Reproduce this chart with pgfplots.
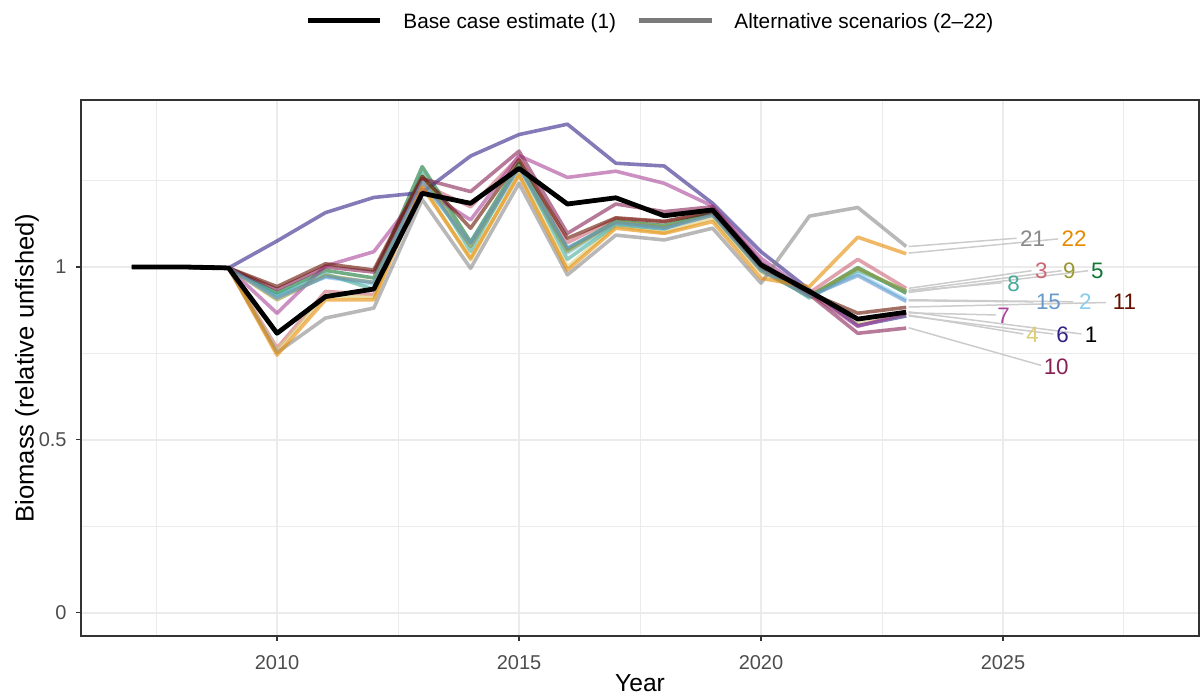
\documentclass[border=0pt]{standalone}
\usepackage{fontspec}
\setmainfont{Liberation Sans}
\usepackage{pgfplots}
\usepackage{pgfplotstable}
\pgfplotsset{compat=1.18}

\definecolor{c1}{HTML}{000000}
\definecolor{c2}{HTML}{88CCEE}
\definecolor{c3}{HTML}{CC6677}
\definecolor{c4}{HTML}{DDCC77}
\definecolor{c5}{HTML}{117733}
\definecolor{c6}{HTML}{332288}
\definecolor{c7}{HTML}{AA4499}
\definecolor{c8}{HTML}{44AA99}
\definecolor{c9}{HTML}{999933}
\definecolor{c10}{HTML}{882255}
\definecolor{c11}{HTML}{661100}
\definecolor{c15}{HTML}{6699CC}
\definecolor{c21}{HTML}{888888}
\definecolor{c22}{HTML}{E68A00}
\definecolor{gridcol}{HTML}{EBEBEB}
\definecolor{framecol}{HTML}{333333}
\definecolor{tickcol}{HTML}{4D4D4D}
\definecolor{leadcol}{HTML}{CCCCCC}

% biomass relative to unfished, by scenario
\pgfplotstableread{
year  s1    s2    s3    s4    s5    s6    s7    s8    s9    s10   s11   s15   s21   s22
2007  1.000 1.000 1.000 1.000 1.000 1.000 1.000 1.000 1.000 1.000 1.000 1.000 1.000 1.000
2008  1.000 1.000 1.000 1.000 1.000 1.000 1.000 1.000 1.000 1.000 1.000 1.000 1.000 1.000
2009  0.997 0.997 0.997 0.997 0.997 0.997 0.997 0.997 0.997 0.997 0.997 0.997 0.997 0.997
2010  0.808 0.915 0.765 0.758 0.925 1.075 0.866 0.918 0.905 0.935 0.943 0.910 0.752 0.745
2011  0.914 0.970 0.929 0.918 0.990 1.157 1.003 0.980 0.975 1.000 1.009 0.972 0.852 0.905
2012  0.936 0.950 0.920 0.912 0.968 1.201 1.044 0.935 0.955 0.985 0.991 0.955 0.881 0.905
2013  1.213 1.250 1.240 1.240 1.290 1.215 1.225 1.272 1.262 1.255 1.262 1.245 1.195 1.232
2014  1.184 1.060 1.174 1.020 1.072 1.321 1.136 1.045 1.060 1.218 1.112 1.068 0.996 1.025
2015  1.285 1.282 1.318 1.270 1.300 1.383 1.322 1.298 1.292 1.335 1.310 1.288 1.242 1.266
2016  1.182 1.040 1.070 1.000 1.052 1.413 1.259 1.022 1.045 1.097 1.083 1.055 0.977 0.991
2017  1.200 1.125 1.140 1.118 1.132 1.300 1.277 1.122 1.130 1.182 1.142 1.128 1.092 1.112
2018  1.148 1.110 1.130 1.100 1.120 1.292 1.242 1.110 1.115 1.160 1.132 1.112 1.078 1.097
2019  1.165 1.150 1.160 1.140 1.155 1.184 1.176 1.160 1.150 1.174 1.158 1.150 1.112 1.131
2020  1.006 0.990 1.000 0.985 0.995 1.044 1.025 1.000 0.990 1.012 1.000 0.990 0.953 0.967
2021  0.929 0.915 0.925 0.920 0.915 0.934 0.925 0.910 0.915 0.920 0.925 0.915 1.147 0.943
2022  0.849 0.980 1.022 0.835 0.998 0.830 0.828 0.990 0.995 0.808 0.866 0.975 1.172 1.086
2023  0.869 0.905 0.938 0.861 0.924 0.858 0.866 0.930 0.930 0.823 0.883 0.900 1.059 1.038
}\biomass

\begin{document}
\begin{tikzpicture}[
  scen/.style={line width=1.8pt, opacity=0.6, line join=round},
  lead/.style={leadcol, line width=0.75pt},
  lab/.style={font=\fontsize{11.2}{13}\selectfont, inner sep=0pt}]
\useasboundingbox (-40.5pt,-30.5pt) rectangle (561pt,318pt);
\begin{axis}[
    scale only axis,
    width=559pt, height=268pt,
    xmin=2005.95, xmax=2029.05,
    ymin=-0.068, ymax=1.483,
    xtick={2010,2015,2020,2025},
    minor xtick={2007.5,2012.5,2017.5,2022.5,2027.5},
    ytick={0,0.5,1},
    minor ytick={0.25,0.75,1.25},
    grid=both,
    major grid style={gridcol, line width=1pt},
    minor grid style={gridcol, line width=0.5pt},
    axis line style={framecol, line width=0.75pt},
    tick pos=left,
    tick align=outside,
    major tick length=2.5pt,
    minor tick length=0pt,
    tick style={framecol, line width=0.75pt},
    /pgf/number format/assume math mode=true,
    /pgf/number format/1000 sep={},
    xticklabel style={font=\fontsize{10}{12}\selectfont, color=tickcol, inner sep=0pt, anchor=base, yshift=-14pt},
    yticklabel style={font=\fontsize{10}{12}\selectfont, color=tickcol, inner sep=0pt, anchor=east, xshift=-4.5pt},
    xlabel={Year},
    ylabel={Biomass (relative unfished)},
    every axis x label/.style={at={(axis description cs:0.5,0)}, yshift=-23.5pt, anchor=center, font=\fontsize{12.3}{14}\selectfont},
    every axis y label/.style={at={(axis description cs:0,0.5)}, xshift=-27pt, rotate=90, anchor=center, font=\fontsize{12.8}{14}\selectfont},
]
\addplot[scen, c2]  table[x=year, y=s2]  {\biomass};
\addplot[scen, c3]  table[x=year, y=s3]  {\biomass};
\addplot[scen, c4]  table[x=year, y=s4]  {\biomass};
\addplot[scen, c5]  table[x=year, y=s5]  {\biomass};
\addplot[scen, c6]  table[x=year, y=s6]  {\biomass};
\addplot[scen, c7]  table[x=year, y=s7]  {\biomass};
\addplot[scen, c8]  table[x=year, y=s8]  {\biomass};
\addplot[scen, c9]  table[x=year, y=s9]  {\biomass};
\addplot[scen, c10] table[x=year, y=s10] {\biomass};
\addplot[scen, c11] table[x=year, y=s11] {\biomass};
\addplot[scen, c15] table[x=year, y=s15] {\biomass};
\addplot[scen, c21] table[x=year, y=s21] {\biomass};
\addplot[scen, c22] table[x=year, y=s22] {\biomass};
\addplot[black, line width=2.4pt, line join=round] table[x=year, y=s1] {\biomass};

% leader lines from the 2023 values to the scenario labels
\addplot[lead] coordinates {(2023.05,1.059) (2025.28,1.083)};
\addplot[lead] coordinates {(2023.05,1.040) (2026.14,1.081)};
\addplot[lead] coordinates {(2023.05,0.938) (2025.59,0.989)};
\addplot[lead] coordinates {(2023.05,0.932) (2026.21,0.989)};
\addplot[lead] coordinates {(2023.05,0.926) (2026.76,0.989)};
\addplot[lead] coordinates {(2023.05,0.930) (2024.97,0.954)};
\addplot[lead] coordinates {(2023.05,0.902) (2025.63,0.899)};
\addplot[lead] coordinates {(2023.05,0.905) (2026.45,0.899)};
\addplot[lead] coordinates {(2023.05,0.884) (2027.13,0.897)};
\addplot[lead] coordinates {(2023.05,0.867) (2024.85,0.861)};
\addplot[lead] coordinates {(2023.05,0.861) (2025.42,0.806)};
\addplot[lead] coordinates {(2023.05,0.858) (2026.04,0.806)};
\addplot[lead] coordinates {(2023.05,0.870) (2026.62,0.806)};
\addplot[lead] coordinates {(2023.05,0.824) (2025.79,0.715)};

\node[lab, text=c21] at (axis cs:2025.61,1.081) {21};
\node[lab, text=c22] at (axis cs:2026.47,1.081) {22};
\node[lab, text=c3]  at (axis cs:2025.79,0.988) {3};
\node[lab, text=c9]  at (axis cs:2026.37,0.988) {9};
\node[lab, text=c5]  at (axis cs:2026.95,0.988) {5};
\node[lab, text=c8]  at (axis cs:2025.22,0.951) {8};
\node[lab, text=c15] at (axis cs:2025.94,0.899) {15};
\node[lab, text=c2]  at (axis cs:2026.70,0.899) {2};
\node[lab, text=c11] at (axis cs:2027.51,0.899) {11};
\node[lab, text=c7]  at (axis cs:2025.01,0.858) {7};
\node[lab, text=c4]  at (axis cs:2025.61,0.803) {4};
\node[lab, text=c6]  at (axis cs:2026.23,0.803) {6};
\node[lab, text=c1]  at (axis cs:2026.82,0.803) {1};
\node[lab, text=c10] at (axis cs:2026.10,0.711) {10};
\end{axis}

% legend above the panel
\draw[black, line width=2.5pt] (113.5pt,307.5pt) -- (149.5pt,307.5pt);
\node[anchor=base west, inner sep=0pt, font=\fontsize{10.4}{12}\selectfont] at (161pt,303.8pt) {Base case estimate (1)};
\draw[black!52, line width=2.5pt] (279pt,307.5pt) -- (315.5pt,307.5pt);
\node[anchor=base west, inner sep=0pt, font=\fontsize{10.4}{12}\selectfont] at (326.5pt,303.8pt) {Alternative scenarios (2--22)};
\end{tikzpicture}
\end{document}
